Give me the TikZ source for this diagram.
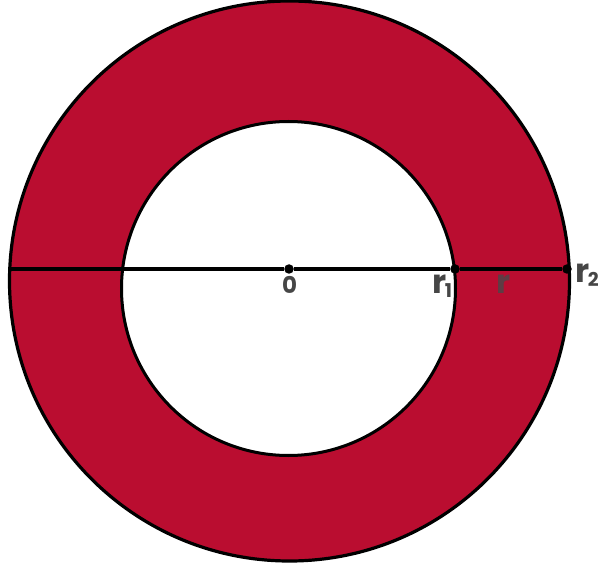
\documentclass[tikz,border=0pt]{standalone}
\usepackage{fontspec}
\setsansfont{Poppins}
\definecolor{ringred}{RGB}{186,13,48}
\definecolor{labgray}{RGB}{70,70,70}
\definecolor{midgray}{RGB}{95,60,68}
\begin{document}
\begin{tikzpicture}[x=1pt,y=-1pt,
  dot/.style={circle,fill=black,inner sep=0pt,minimum size=9.5pt},
  lab/.style={font=\sffamily\bfseries\fontsize{23}{23}\selectfont,text=labgray,inner sep=0pt},
  rlab/.style={lab,font=\sffamily\bfseries\fontsize{33}{33}\selectfont}]
\useasboundingbox (0,0) rectangle (598,567);
\fill[ringred,even odd rule] (289.5,281) circle[radius=280pt] (288.5,288.5) circle[radius=167pt];
\draw[black,line width=3.2pt] (289.5,281) circle[radius=280pt];
\draw[black,line width=3pt] (288.5,288.5) circle[radius=167pt];
\coordinate (L) at (10,269);
\node[dot] (O) at (289,269) {};
\node[dot] (R1) at (455,269) {};
\node[dot] (R2) at (567,269) {};
\draw[black,line width=3.2pt] (L) -- (O) -- (R1) -- (R2);
\node[lab,anchor=base] (t0) at (289.5,294) {0};
\node[rlab,anchor=base west] (t1) at (432,294) {r\kern-1.5pt\raisebox{-3.5pt}{\fontsize{19}{19}\selectfont 1}};
\node[rlab,anchor=base,text=midgray] (tr) at (504,294) {r};
\node[rlab,anchor=base west] (t2) at (575,283) {r\kern-1.5pt\raisebox{-4pt}{\fontsize{19}{19}\selectfont 2}};
\end{tikzpicture}
\end{document}
